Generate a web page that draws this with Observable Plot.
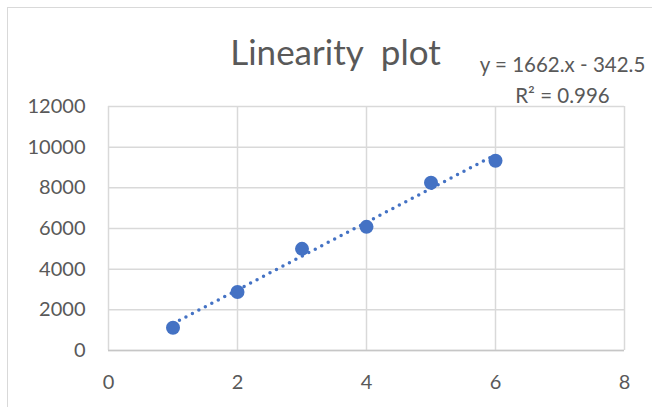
<!DOCTYPE html>
<html>
<head>
<meta charset="utf-8">
<script src="https://cdn.jsdelivr.net/npm/d3@7"></script>
<script src="https://cdn.jsdelivr.net/npm/@observablehq/plot@0.6"></script>
<style>
  body { margin: 0; background: #fff; }
  #chart { position: relative; width: 652px; height: 407px; overflow: hidden; }
  #chart .border {
    position: absolute; left: 7px; top: 7px; right: -2px; bottom: -2px;
    border-left: 1.5px solid #d9d9d9; border-top: 1.5px solid #d9d9d9;
    pointer-events: none;
  }
  #chart svg text { white-space: pre; }
</style>
</head>
<body>
<div id="chart"><div class="border"></div></div>
<script>
// Calibration points: concentration level vs. measured response
const concentration = [1, 2, 3, 4, 5, 6];
const response = [1120, 2880, 5000, 6080, 8250, 9330];

// Axis ticks
const xTicks = [0, 2, 4, 6, 8];
const yTicks = [0, 2000, 4000, 6000, 8000, 10000, 12000];

// Fitted linear trendline
const slope = 1662;
const intercept = -342.5;
const rSquared = 0.996;

const title = "Linearity  plot";
const equationText = `y = ${slope}.x - ${-intercept}`;
const r2Text = `R² = ${rSquared}`;

const points = concentration.map((x, i) => ({x, y: response[i]}));
const [x0, x1] = d3.extent(concentration);
const trend = [x0, x1].map(x => ({x, y: slope * x + intercept}));

const font = "Lato, 'Open Sans', sans-serif";
const textColor = "#595959";
const blue = "#4472C4";
const gridColor = "#d9d9d9";

const chart = Plot.plot({
  width: 652,
  height: 407,
  marginLeft: 108,
  marginRight: 28,
  marginTop: 106,
  marginBottom: 57,
  style: {fontFamily: font, color: textColor, background: "transparent"},
  x: {domain: [0, 8], ticks: xTicks},
  y: {domain: [0, 12000], ticks: yTicks},
  marks: [
    Plot.gridX(xTicks, {stroke: gridColor, strokeOpacity: 1, strokeWidth: 1.5}),
    Plot.gridY(yTicks, {stroke: gridColor, strokeOpacity: 1, strokeWidth: 1.5}),
    Plot.ruleY([0], {stroke: "#c6c6c6", strokeWidth: 1.5}),
    Plot.axisX(xTicks, {tickSize: 0, tickPadding: 24, fontSize: 20, fill: textColor, label: null}),
    Plot.axisY(yTicks, {tickSize: 0, tickPadding: 23, fontSize: 20, fill: textColor, label: null, tickFormat: d => String(d)}),
    Plot.line(trend, {x: "x", y: "y", stroke: blue, strokeWidth: 3.5, strokeDasharray: "0 7.3", strokeLinecap: "round"}),
    Plot.dot(points, {x: "x", y: "y", r: 7, fill: blue, stroke: "none"}),
    Plot.text([title], {frameAnchor: "top", lineAnchor: "middle", dx: -31, dy: -53, fontSize: 35, fill: textColor, fontFamily: font}),
    Plot.text([equationText], {frameAnchor: "top-right", lineAnchor: "middle", textAnchor: "middle", dx: -62, dy: -41, fontSize: 20.5, fill: textColor, fontFamily: font}),
    Plot.text([r2Text], {frameAnchor: "top-right", lineAnchor: "middle", textAnchor: "middle", dx: -62, dy: -10, fontSize: 20.5, fill: textColor, fontFamily: font})
  ]
});

document.getElementById("chart").prepend(chart);
</script>
</body>
</html>
